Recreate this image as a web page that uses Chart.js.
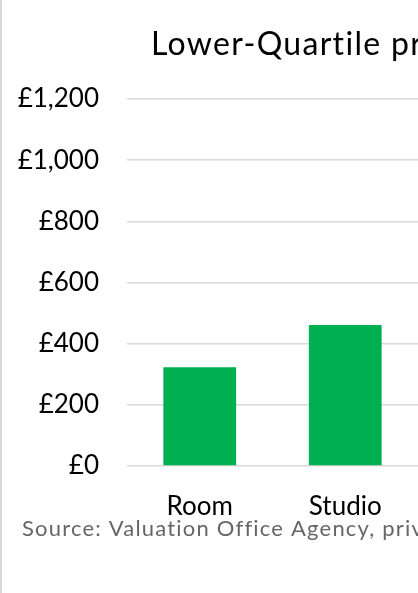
<!DOCTYPE html>
<html>
<head>
<meta charset="utf-8">
<script src="https://cdn.jsdelivr.net/npm/chart.js@4"></script>
<style>
  html, body { margin: 0; padding: 0; background: #fff; overflow: hidden; }
  #wrap { position: relative; width: 418px; height: 593px; }
  #edge { position: absolute; left: 0; top: 0; width: 2px; height: 593px; background: #d9d9d9; }
</style>
</head>
<body>
<div id="wrap">
  <canvas id="rentChart" width="418" height="593"></canvas>
  <div id="edge"></div>
</div>
<script>
// Chart values
const categories = ['Room', 'Studio'];
const lowerQuartileRent = [323, 461];
const yTicks = [0, 200, 400, 600, 800, 1000, 1200];

const titleText = 'Lower-Quartile private rents';
const sourceText = 'Source: Valuation Office Agency, private rental market statistics';

// draws the (clipped) title and the source note
const textPlugin = {
    id: 'textPlugin',
    afterDraw(chart) {
        const ctx = chart.ctx;
        ctx.save();
        ctx.textAlign = 'left';
        ctx.textBaseline = 'alphabetic';
        ctx.fillStyle = '#000';
        ctx.font = '32px Lato';
        ctx.letterSpacing = '1.3px';
        ctx.fillText(titleText, 151, 55);
        ctx.fillStyle = '#666';
        ctx.font = '22px Lato';
        ctx.letterSpacing = '1.2px';
        ctx.fillText(sourceText, 22, 536);
        ctx.restore();
    }
};

const ctx = document.getElementById('rentChart').getContext('2d');
new Chart(ctx, {
    type: 'bar',
    data: {
        labels: categories,
        datasets: [{
            data: lowerQuartileRent,
            backgroundColor: '#00b050',
            borderWidth: 0,
            barPercentage: 0.5,
            categoryPercentage: 1
        }]
    },
    options: {
        responsive: false,
        animation: false,
        layout: { padding: { top: 99, right: 0, bottom: 0, left: 0 } },
        plugins: {
            legend: { display: false },
            title: { display: false },
            tooltip: { enabled: false }
        },
        scales: {
            x: {
                grid: { display: false },
                border: { display: false },
                ticks: {
                    color: '#000',
                    font: { family: 'Lato', size: 26 },
                    padding: 17,
                    maxRotation: 0
                },
                afterFit(scale) { scale.height = 127; }
            },
            y: {
                min: 0,
                max: 1200,
                afterBuildTicks(scale) {
                    scale.ticks = yTicks.map(v => ({ value: v }));
                },
                grid: { color: '#d9d9d9', lineWidth: 1.5, drawTicks: false },
                border: { display: false },
                ticks: {
                    color: '#000',
                    font: { family: 'Lato', size: 26 },
                    padding: 28,
                    callback: v => '£' + v.toLocaleString('en-GB')
                },
                afterFit(scale) { scale.width = 127; }
            }
        }
    },
    plugins: [textPlugin]
});
</script>
</body>
</html>
